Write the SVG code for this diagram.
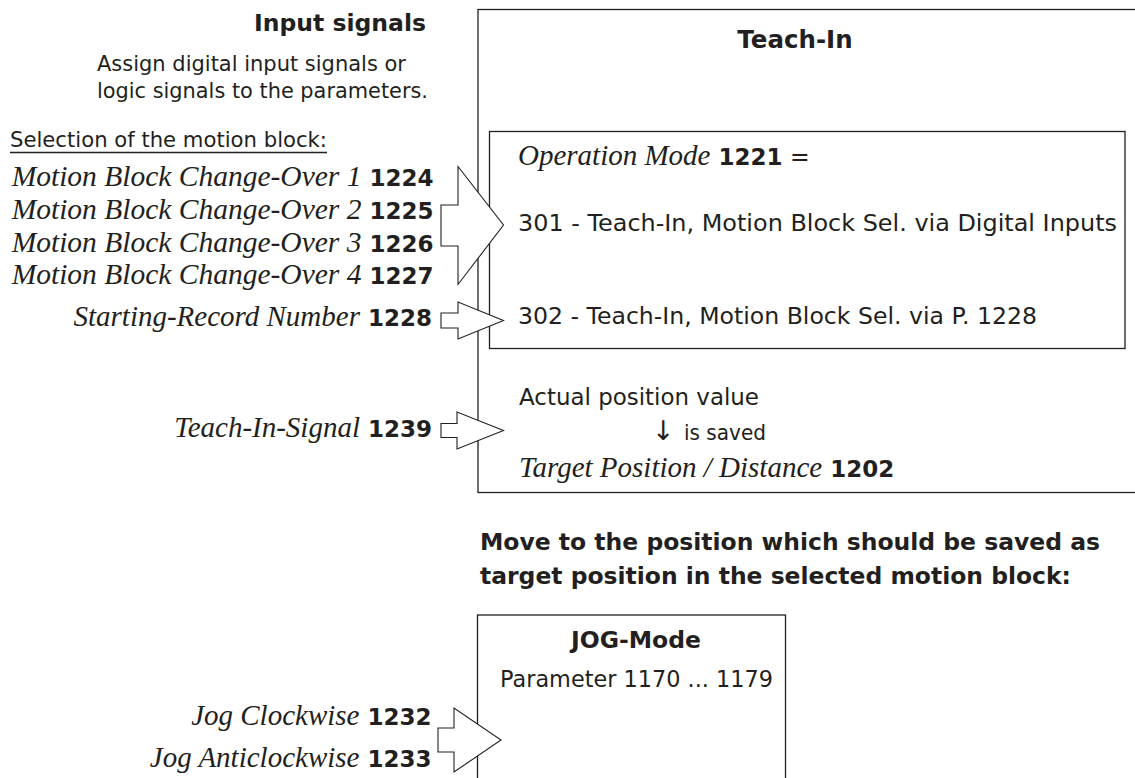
<svg xmlns="http://www.w3.org/2000/svg" width="1135" height="778" viewBox="0 0 1135 778">
<style>
.box{fill:#fff;stroke:#231f20;stroke-width:1.3}
.arr{fill:#fff;stroke:#231f20;stroke-width:1.1;stroke-linejoin:miter}
.s{font-family:"DejaVu Sans","Liberation Sans",sans-serif;fill:#231f20}
.sl{font-size:21px}
.sr{font-size:23.5px}
.b{font-family:"DejaVu Sans","Liberation Sans",sans-serif;font-weight:bold;fill:#231f20}
.n{font-family:"DejaVu Sans","Liberation Sans",sans-serif;font-weight:bold;font-size:23px}
.i{font-family:"Liberation Serif","Times New Roman",serif;font-style:italic;font-size:29px}
.i2{font-family:"Liberation Serif","Times New Roman",serif;font-style:italic;font-size:29.5px}
.t{fill:#231f20}
</style>
<rect width="1135" height="778" fill="#fff"/>

<g id="input-signals">
<text class="b" x="254" y="31" font-size="23.5" textLength="172" lengthAdjust="spacingAndGlyphs">Input signals</text>
<text class="s sl" x="97" y="71" textLength="309" lengthAdjust="spacingAndGlyphs">Assign digital input signals or</text>
<text class="s sl" x="97" y="98" textLength="331" lengthAdjust="spacingAndGlyphs">logic signals to the parameters.</text>
<text class="s sl" x="10" y="147" textLength="317" lengthAdjust="spacingAndGlyphs">Selection of the motion block:</text>
<line x1="10" y1="152.5" x2="327" y2="152.5" stroke="#231f20" stroke-width="1.4"/>
</g>

<g id="teach-in">
<rect class="box" x="478" y="9.5" width="700" height="483"/>
<text class="b" x="795" y="48" font-size="24.5" text-anchor="middle">Teach-In</text>
<text class="s sr" x="519" y="405" textLength="240" lengthAdjust="spacingAndGlyphs">Actual position value</text>
<text class="s" font-size="21" y="440"><tspan x="652" font-size="27">↓</tspan><tspan x="684" textLength="82" lengthAdjust="spacingAndGlyphs">is saved</tspan></text>
<text class="t" x="519" y="477"><tspan class="i">Target Position / Distance</tspan><tspan class="n"> 1202</tspan></text>
</g>

<g id="operation-mode">
<rect class="box" x="489.5" y="131.5" width="635.5" height="217"/>
<text class="t" x="518" y="165"><tspan class="i">Operation Mode</tspan><tspan class="n"> 1221</tspan><tspan class="s sr"> =</tspan></text>
<text class="s sr" x="518" y="231" textLength="599" lengthAdjust="spacingAndGlyphs">301 - Teach-In, Motion Block Sel. via Digital Inputs</text>
<text class="s sr" x="518" y="324" textLength="519" lengthAdjust="spacingAndGlyphs">302 - Teach-In, Motion Block Sel. via P. 1228</text>
</g>

<g id="move-caption">
<text class="b" x="480" y="550" font-size="23.5" textLength="620" lengthAdjust="spacingAndGlyphs">Move to the position which should be saved as</text>
<text class="b" x="480" y="584" font-size="23.5" textLength="591" lengthAdjust="spacingAndGlyphs">target position in the selected motion block:</text>
</g>

<g id="jog-mode">
<rect class="box" x="477.5" y="615" width="308" height="200"/>
<text class="b" x="636" y="648" font-size="23.5" text-anchor="middle">JOG-Mode</text>
<text class="s sr" x="500" y="687" textLength="273" lengthAdjust="spacingAndGlyphs">Parameter 1170 ... 1179</text>
</g>

<g id="signal-labels" class="t" text-anchor="end">
<text x="433.5" y="186"><tspan class="i2">Motion Block Change-Over 1</tspan><tspan class="n"> 1224</tspan></text>
<text x="433.5" y="219"><tspan class="i2">Motion Block Change-Over 2</tspan><tspan class="n"> 1225</tspan></text>
<text x="433.5" y="252"><tspan class="i2">Motion Block Change-Over 3</tspan><tspan class="n"> 1226</tspan></text>
<text x="433.5" y="284"><tspan class="i2">Motion Block Change-Over 4</tspan><tspan class="n"> 1227</tspan></text>
<text x="432" y="326"><tspan class="i">Starting-Record Number</tspan><tspan class="n"> 1228</tspan></text>
<text x="432" y="437"><tspan class="i">Teach-In-Signal</tspan><tspan class="n"> 1239</tspan></text>
<text x="431.5" y="725"><tspan class="i">Jog Clockwise</tspan><tspan class="n"> 1232</tspan></text>
<text x="431.5" y="767"><tspan class="i">Jog Anticlockwise</tspan><tspan class="n"> 1233</tspan></text>
</g>

<g id="connectors">
<polygon class="arr" points="441,205 458,205 458,166.5 503.5,225 458,284.5 458,246 441,246"/>
<polygon class="arr" points="441,313 458,313 458,302 503.5,320.5 458,339 458,328 441,328"/>
<polygon class="arr" points="441,423.5 457,423.5 457,412 503.5,430.5 457,449 457,437.5 441,437.5"/>
<polygon class="arr" points="438,728 454,728 454,708 501,740 454,772 454,752 438,752"/>
</g>
</svg>
